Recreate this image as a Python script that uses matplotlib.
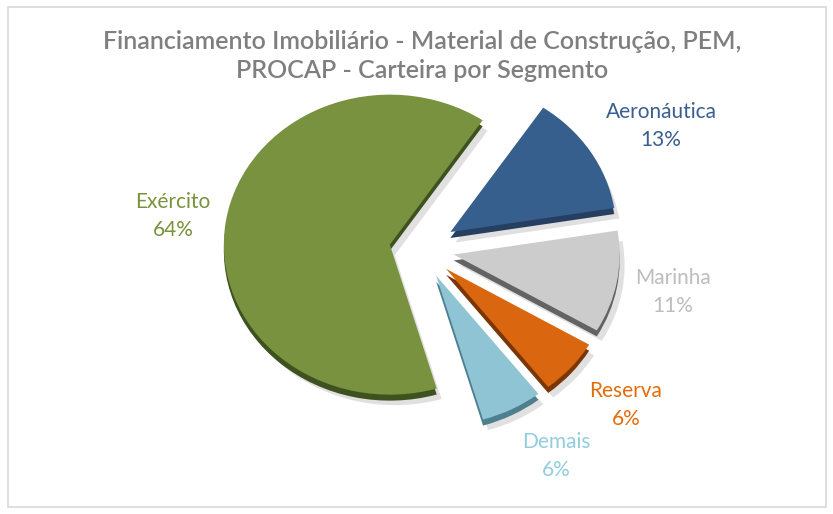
import matplotlib
matplotlib.use("Agg")
import matplotlib.pyplot as plt
from matplotlib.patches import Rectangle

# data
segments = ["Aeronáutica", "Marinha", "Reserva", "Demais", "Exército"]
shares = [13, 11, 6, 6, 64]
face_colors = ["#375F8E", "#CCCCCC", "#DA670F", "#8EC4D4", "#78923F"]
side_colors = ["#263F60", "#636363", "#7A3606", "#4E7F8E", "#3E5220"]
text_colors = ["#3A5F8F", "#BDBDBD", "#E46C0A", "#93CDDD", "#77933C"]
explode = [0.21, 0.2, 0.2, 0.2, 0.19]

# where each label sits, in pie units from the pie centre
label_pos = [(1.446, 0.82), (1.518, -0.287), (1.235, -1.04), (0.813, -1.38), (-1.494, 0.22)]

title = "Financiamento Imobiliário - Material de Construção, PEM,\nPROCAP - Carteira por Segmento"

W, H = 833, 514
fig = plt.figure(figsize=(W / 100, H / 100), dpi=100)
fig.patch.set_facecolor("white")
fig.patches.append(Rectangle((8 / W, 7 / H), 818 / W, 500 / H, transform=fig.transFigure,
                             facecolor="white", edgecolor="#D9D9D9", linewidth=1.2, zorder=-5))

ax = fig.add_axes([0, 0, 1, 1])
ax.patch.set_visible(False)

# soft drop shadow, darker side faces, then the top faces
ax.pie(shares, explode=explode, startangle=56, counterclock=False, center=(0.03, -0.07),
       colors=["#000000"] * 5, wedgeprops=dict(alpha=0.12, linewidth=0))
ax.pie(shares, explode=explode, startangle=56, counterclock=False, center=(0, -0.04),
       colors=side_colors, wedgeprops=dict(linewidth=0))
wedges, labels = ax.pie(shares, explode=explode, startangle=56, counterclock=False,
                        colors=face_colors, labels=[f"{s}\n{v}%" for s, v in zip(segments, shares)],
                        wedgeprops=dict(linewidth=0),
                        textprops=dict(fontsize=15, family="Lato", linespacing=1.45))
for t, c, p in zip(labels, text_colors, label_pos):
    t.set_position(p)
    t.set_color(c)
    t.set_horizontalalignment("center")
    t.set_verticalalignment("center")

# pie centre at about (421, 249) px, 166 px per unit across, 150 px per unit down
ax.set_aspect("auto")
ax.set_xlim(-421 / 166, (W - 421) / 166)
ax.set_ylim(-(H - 249) / 150, 249 / 150)
ax.axis("off")

fig.text(0.507, 1 - 56 / H, title, ha="center", va="center", fontsize=18,
         fontweight="semibold", family="Lato", color="#7F7F7F", linespacing=1.3)

fig.savefig("out.png", dpi=100)
